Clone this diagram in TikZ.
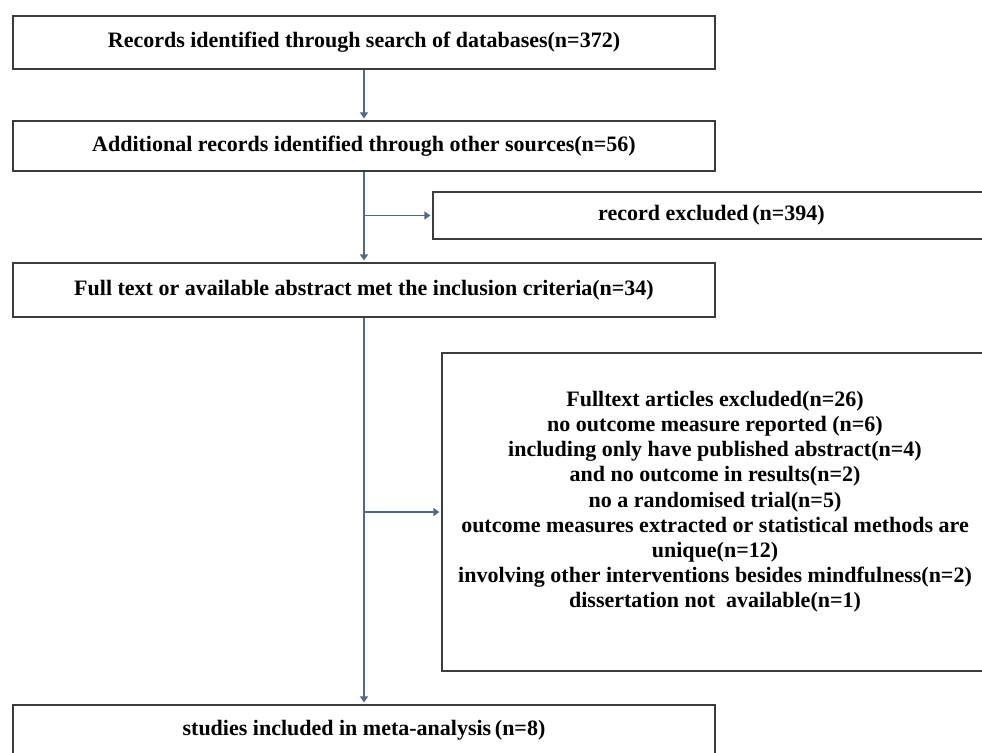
\documentclass[tikz,border=0pt]{standalone}
\usepackage{fontspec}
\setmainfont{Liberation Serif}
\usetikzlibrary{arrows.meta,positioning}
\definecolor{flowline}{HTML}{4E6B87}
\definecolor{boxline}{HTML}{3C3C3C}

\begin{document}
\begin{tikzpicture}[x=1pt, y=-1pt,
    box/.style={draw=boxline, line width=1.2pt, align=center, inner sep=0pt, font=\fontsize{22}{25.2}\selectfont\bfseries},
    mainbox/.style={box, minimum width=702pt},
    link/.style={draw=flowline, line width=1.4pt},
    arrow/.style={link, -{Triangle[length=6pt,width=8pt]}, shorten >=2pt}
  ]
    \useasboundingbox (0,0) rectangle (982,752);
    \clip (0,0) rectangle (982,752);
    \node[mainbox, minimum height=53pt] (search) at (364,42.5) {Records identified through search of databases(n=372)};
    \node[mainbox, minimum height=50pt] (other) at (364,146) {Additional records identified through other sources(n=56)};
    \node[box, minimum width=557pt, minimum height=47pt] (excluded) at (711.5,215.5) {record excluded\,(n=394)};
    \node[mainbox, minimum height=54pt] (criteria) at (364,290) {Full text or available abstract met the inclusion criteria(n=34)};
    \node[box, minimum width=546pt, minimum height=318pt] (fulltext) at (715,512) {Fulltext articles excluded(n=26)\\
      no outcome measure reported (n=6)\\
      including only have published abstract(n=4)\\
      and no outcome in results(n=2)\\
      no a randomised trial(n=5)\\
      outcome measures extracted or statistical methods are\\
      unique(n=12)\\
      involving other interventions besides mindfulness(n=2)\\
      dissertation not\ \ available(n=1)\\
      ~};
    \node[mainbox, minimum height=50pt] (included) at (364,730) {studies included in meta-analysis\,(n=8)};
    \draw[arrow] (search.south) -- (other.north);
    \draw[arrow] (other.south) -- (criteria.north);
    \draw[arrow] (other.south |- excluded.west) -- (excluded.west);
    \draw[arrow] (criteria.south) -- (included.north);
    \draw[arrow] (criteria.south |- fulltext.west) -- (fulltext.west);
\end{tikzpicture}
\end{document}
